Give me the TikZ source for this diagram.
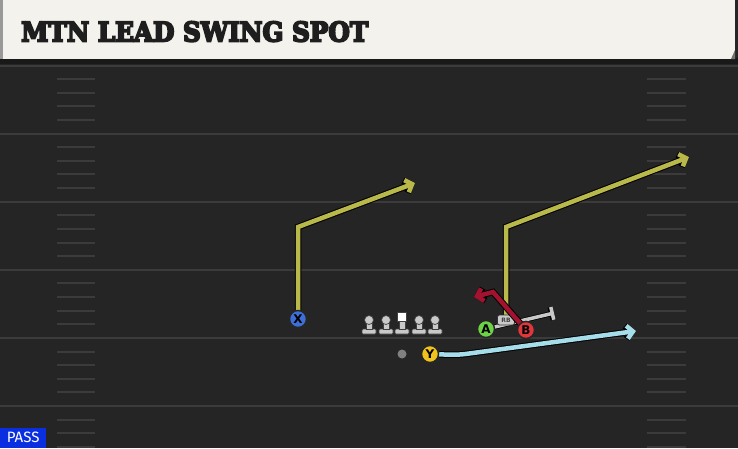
\documentclass[tikz,border=0pt]{standalone}
\usepackage{fontspec}
\setmainfont{DejaVu Serif}
\setsansfont{DejaVu Sans}
\newfontfamily\passfont{Fira Sans}
\usetikzlibrary{arrows.meta}

\definecolor{field}{HTML}{252525}
\definecolor{fieldline}{HTML}{3B3B3B}
\definecolor{titlebar}{HTML}{F4F2EC}
\definecolor{titleink}{HTML}{1E1E1E}
\definecolor{routeyellow}{HTML}{B9B84A}
\definecolor{routered}{HTML}{A3122E}
\definecolor{routecyan}{HTML}{A6DDEA}
\definecolor{blockgray}{HTML}{C9C9C9}
\definecolor{playerX}{HTML}{3D6FD6}
\definecolor{playerA}{HTML}{6CD246}
\definecolor{playerB}{HTML}{E0363C}
\definecolor{playerY}{HTML}{EFC21E}
\definecolor{passblue}{HTML}{0A2FE0}

\pgfdeclarelayer{fieldlayer}
\pgfdeclarelayer{routelayer}
\pgfsetlayers{fieldlayer, routelayer, main}

% heavy title: fill and stroke the glyphs
\newcommand{\heavytitle}[1]{\special{pdf:literal 2 Tr 0.7 w}#1\special{pdf:literal 0 Tr}}

\tikzset{
	player/.style = {circle, draw = black!85, line width = 1.4pt, minimum size = 17pt, inner sep = 0pt, font = \sffamily\bfseries\fontsize{12}{12}\selectfont, text = black},
	route/.style = {line width = 4.5pt, line join = miter, -{Straight Barb[length = 6pt, width = 13pt]}, preaction = {draw = black, line width = 6.5pt}},
	lineman/.style = {fill = blockgray, draw = black!75, line width = 0.7pt}
}

\begin{document}
\begin{tikzpicture}[x = 1pt, y = -1pt]

	\useasboundingbox (0, 0) rectangle (738, 448);

	\begin{pgfonlayer}{fieldlayer}

	% Field + yard lines

	\fill [field] (0, 0) rectangle (738, 448);
	\fill [black!90] (0, 58) rectangle (738, 64);
	\foreach \k in {0, 1, ..., 5}
		\draw [fieldline, line width = 2pt] (0, 65.5 + 68.1 * \k) -- (738, 65.5 + 68.1 * \k);

	% Hash marks

	\foreach \k in {0, 1, ..., 5}
		\foreach \j in {1, 2, 3, 4} {
			\draw [fieldline, line width = 2pt] (57, 65.5 + 68.1 * \k + 13.62 * \j) -- (95, 65.5 + 68.1 * \k + 13.62 * \j);
			\draw [fieldline, line width = 2pt] (647, 65.5 + 68.1 * \k + 13.62 * \j) -- (686, 65.5 + 68.1 * \k + 13.62 * \j);
		}

	% Title bar

	\fill [titlebar] (0, 0) rectangle (735, 59);
	\fill [black!40] (0, 0) rectangle (3, 59);
	\fill [black!55] (735, 50) -- (735, 59) -- (731, 59) -- cycle;

	\end{pgfonlayer}

	\node (title) [anchor = south west, inner sep = 0pt, text = titleink] at (21, 42)
		{\resizebox{347pt}{20pt}{\bfseries\heavytitle{MTN LEAD SWING SPOT}}};

	% Players

	\node (X) [player, fill = playerX] at (298, 319) {X};
	\node (A) [player, fill = playerA] at (486, 329) {A};
	\node (B) [player, fill = playerB] at (526, 330) {B};
	\node (Y) [player, fill = playerY] at (430, 354) {Y};
	\node (QB) [circle, fill = black!50, minimum size = 9pt, inner sep = 0pt] at (402, 354) {};

	% Offensive line

	\foreach \x in {369, 386, 419, 435} {
		\draw [lineman, rounded corners = 1pt] (\x - 7, 329) rectangle (\x + 7, 334);
		\draw [lineman] (\x - 3, 321) rectangle (\x + 3, 329);
		\draw [lineman] (\x, 320) circle (4.5);
	}
	\draw [lineman, rounded corners = 1pt] (395, 329) rectangle (409, 334);
	\draw [lineman] (399, 321) rectangle (405, 329);
	\draw [fill = white, draw = black!75, line width = 0.7pt] (397.5, 312.5) rectangle (406.5, 321.5);

	% Route corners

	\coordinate (Xbreak) at (298, 227);
	\coordinate (Xend) at (415, 183);
	\coordinate (RBbreak) at (506, 227);
	\coordinate (RBend) at (689, 157);
	\coordinate (Bbreak) at (493, 292);
	\coordinate (Bend) at (474, 297);
	\coordinate (Ybend) at (458, 355);
	\coordinate (Yend) at (636, 331);
	\coordinate (blockend) at (554, 313);

	\node (RB) [draw = black!80, fill = blockgray, rounded corners = 2pt, line width = 0.8pt, minimum width = 17pt, minimum height = 10pt, inner sep = 0pt, font = \sffamily\bfseries\fontsize{6}{6}\selectfont, text = black!75] at (506, 320) {RB};

	% Routes

	\begin{pgfonlayer}{routelayer}
	\draw [blockgray, line width = 3.5pt, -{Bar[width = 13pt]}, preaction = {draw = black, line width = 5pt}] (A.center) -- (blockend);
	\draw [route, routeyellow] (X) -- (Xbreak) -- (Xend);
	\draw [route, routeyellow] (RB.center) -- (RBbreak) -- (RBend);
	\draw [route, routecyan, rounded corners = 8pt] (Y) -- (Ybend) -- (Yend);
	\end{pgfonlayer}
	\draw [route, routered] (B.center) -- (Bbreak) -- (Bend);
	\node [player, fill = playerB] at (B) {B};

	% Play type

	\node (pass) [anchor = south west, fill = passblue, text = white, minimum width = 46pt, minimum height = 20pt, inner sep = 0pt, font = \passfont\fontsize{15}{15}\selectfont] at (0, 448) {PASS};

\end{tikzpicture}
\end{document}
